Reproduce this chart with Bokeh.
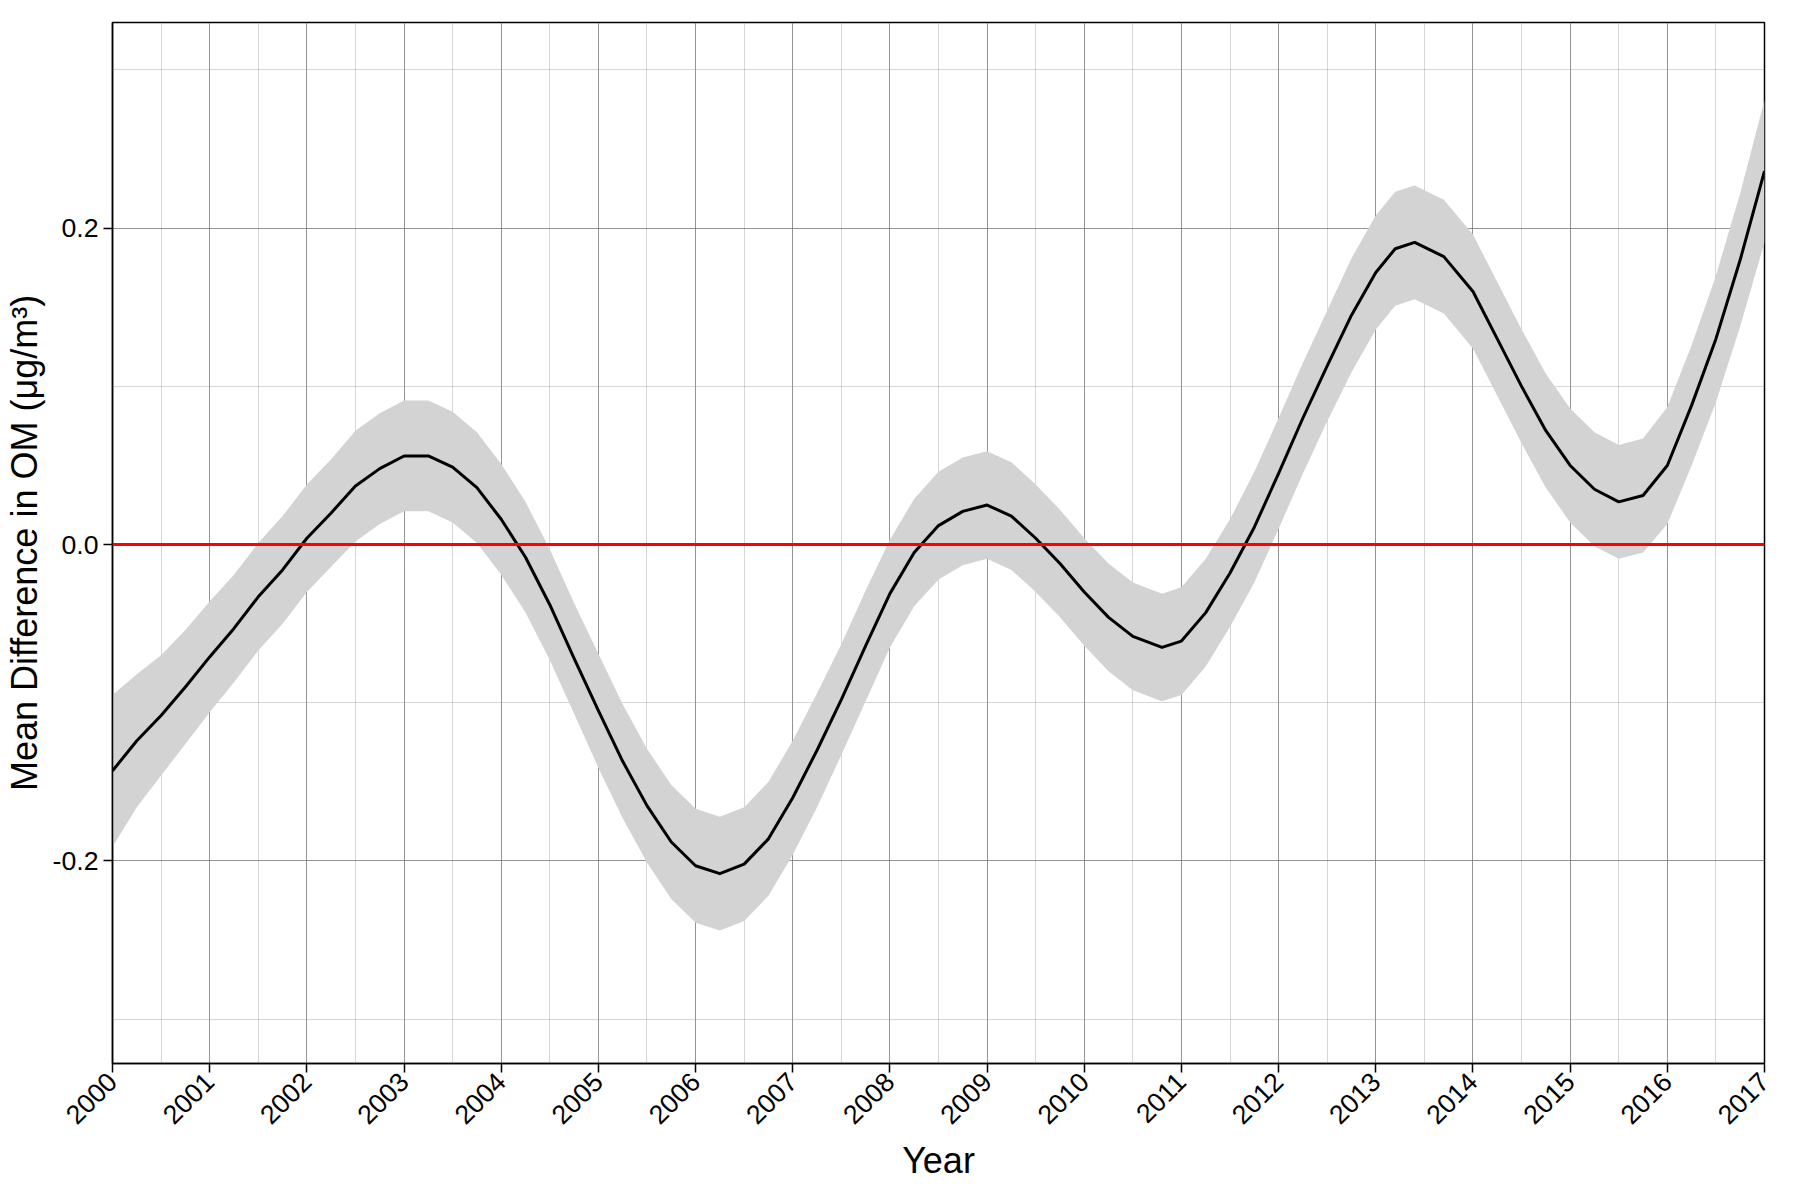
from bokeh.plotting import figure
from bokeh.models import FixedTicker, CustomJSTickFormatter, Span
from bokeh.embed import file_html
from bokeh.resources import INLINE
import numpy as np

years = [2000, 2000.25, 2000.5, 2000.75, 2001, 2001.25, 2001.5, 2001.75, 2002, 2002.25, 2002.5, 2002.75,
         2003, 2003.25, 2003.5, 2003.75, 2004, 2004.25, 2004.5, 2004.75, 2005, 2005.25, 2005.5, 2005.75,
         2006, 2006.25, 2006.5, 2006.75, 2007, 2007.25, 2007.5, 2007.75, 2008, 2008.25, 2008.5, 2008.75,
         2009, 2009.25, 2009.5, 2009.75, 2010, 2010.25, 2010.5, 2010.8, 2011, 2011.25, 2011.5, 2011.75,
         2012, 2012.25, 2012.5, 2012.75, 2013, 2013.2, 2013.4, 2013.7, 2014, 2014.25, 2014.5, 2014.75,
         2015, 2015.25, 2015.5, 2015.75, 2016, 2016.25, 2016.5, 2016.75, 2017]
mean_diff = [-0.143, -0.124, -0.108, -0.090, -0.071, -0.053, -0.033, -0.016, 0.004, 0.020, 0.037, 0.048,
             0.056, 0.056, 0.049, 0.036, 0.016, -0.008, -0.038, -0.072, -0.105, -0.137, -0.165, -0.188,
             -0.203, -0.208, -0.202, -0.186, -0.160, -0.130, -0.098, -0.064, -0.031, -0.005, 0.012, 0.021,
             0.025, 0.018, 0.004, -0.012, -0.030, -0.046, -0.058, -0.065, -0.061, -0.043, -0.018, 0.011,
             0.045, 0.080, 0.113, 0.145, 0.172, 0.187, 0.191, 0.182, 0.160, 0.130, 0.100, 0.072,
             0.050, 0.035, 0.027, 0.031, 0.050, 0.088, 0.130, 0.180, 0.236]
half_ci = [0.048, 0.042, 0.038, 0.036, 0.035, 0.034, 0.034, 0.034, 0.034, 0.034, 0.035, 0.035,
           0.035, 0.035, 0.035, 0.035, 0.035, 0.035, 0.035, 0.035, 0.036, 0.036, 0.036, 0.036,
           0.036, 0.036, 0.036, 0.036, 0.036, 0.036, 0.035, 0.035, 0.034, 0.034, 0.034, 0.034,
           0.034, 0.034, 0.034, 0.034, 0.034, 0.034, 0.034, 0.034, 0.034, 0.034, 0.034, 0.035,
           0.035, 0.035, 0.035, 0.036, 0.036, 0.036, 0.036, 0.036, 0.036, 0.036, 0.036, 0.036,
           0.036, 0.036, 0.036, 0.036, 0.037, 0.038, 0.040, 0.042, 0.045]
year_ticks = list(range(2000, 2018))
y_ticks = [-0.2, 0.0, 0.2]

x = np.array(years)
m = np.array(mean_diff)
h = np.array(half_ci)

p = figure(width=1784, height=1184, output_backend="svg", toolbar_location=None,
           x_range=(2000, 2017), y_range=(-0.328, 0.33),
           x_axis_label="Year", y_axis_label="Mean Difference in OM (μg/m³)",
           min_border_left=30, min_border_top=22, min_border_right=20, min_border_bottom=20)

p.varea(x=x, y1=m - h, y2=m + h, fill_color="#d3d3d3")
p.add_layout(Span(location=0, dimension="width", line_color="red", line_width=3))
p.line(x, m, line_color="black", line_width=3, line_join="round")

p.xaxis.ticker = FixedTicker(ticks=year_ticks, minor_ticks=[y + 0.5 for y in year_ticks])
p.yaxis.ticker = FixedTicker(ticks=y_ticks, minor_ticks=[-0.3, -0.1, 0.1, 0.3])
p.yaxis.formatter = CustomJSTickFormatter(code="return tick.toFixed(1);")
p.xaxis.major_label_orientation = np.pi / 4

for ax in [p.xaxis, p.yaxis]:
    ax.axis_label_text_font = "Liberation Sans"
    ax.axis_label_text_font_style = "normal"
    ax.axis_label_text_font_size = "27pt"
    ax.axis_label_text_color = "black"
    ax.major_label_text_font = "Liberation Sans"
    ax.major_label_text_font_size = "20pt"
    ax.major_label_text_color = "black"
    ax.minor_tick_line_color = None
    ax.major_tick_out = 9
    ax.major_tick_in = 0
    ax.major_tick_line_width = 1.5
    ax.axis_line_color = "black"
    ax.axis_line_width = 1.5

for g in [p.xgrid, p.ygrid]:
    g.grid_line_color = "#666666"
    g.grid_line_alpha = 0.7
    g.minor_grid_line_color = "#999999"
    g.minor_grid_line_alpha = 0.4

p.outline_line_color = "black"
p.outline_line_width = 1.5

open("out.html", "w").write(file_html(p, INLINE))
